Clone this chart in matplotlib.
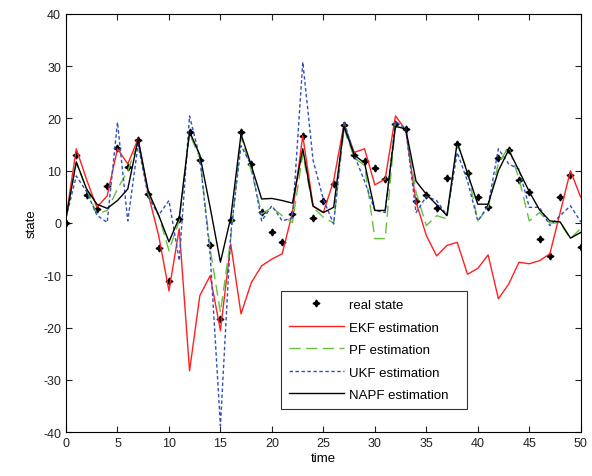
import matplotlib
matplotlib.use("Agg")
import matplotlib.pyplot as plt
import numpy as np

plt.rcParams['font.family'] = ['Liberation Sans', 'DejaVu Sans']
plt.rcParams['axes.unicode_minus'] = False

time = list(range(51))

real_state = [0, 13.0, 5.4, 2.7, 7.0, 14.3, 10.8, 15.9, 5.6, -4.7,
              -11.1, 0.8, 17.4, 12.0, -4.3, -18.4, 0.6, 17.5, 11.3, 2.2,
              -1.8, -3.7, 1.7, 16.6, 1.0, 4.3, 7.5, 18.8, 13.1, 11.9,
              10.5, 8.4, 18.9, 17.9, 4.3, 5.4, 2.9, 8.7, 15.1, 9.6,
              5.0, 3.0, 12.4, 14.0, 8.2, 5.9, -3.0, -6.3, 5.0, 9.1, -4.6]

ekf = [1, 14.2, 8.3, 3.0, 5.2, 14.2, 11.3, 16.1, 5.4, -2.4,
       -13.0, -1.1, -28.3, -13.9, -10.1, -20.6, -4.0, -17.4, -11.4, -8.2,
       -6.9, -5.9, 2.0, 16.7, 3.3, 2.0, 8.1, 18.9, 13.5, 14.2,
       7.3, 8.4, 20.5, 17.8, 4.0, -2.4, -6.3, -4.3, -3.7, -9.8,
       -8.7, -6.1, -14.5, -11.7, -7.5, -7.8, -7.2, -5.9, 2.0, 10.0, 4.9]

pf = [1, 11.5, 6.5, 1.7, 2.4, 6.5, 10.0, 15.5, 5.5, 1.5,
      -5.3, 0.5, 17.0, 12.5, -5.0, -17.1, -3.0, 16.5, 10.0, 1.7,
      3.0, 1.4, 0.1, 13.2, 3.0, 1.1, 0.0, 18.0, 12.5, 11.0,
      -3.0, -3.0, 19.0, 18.0, 5.9, -0.5, 1.4, 0.8, 15.0, 10.0,
      0.4, 3.0, 11.5, 14.5, 8.5, 0.4, 2.0, 0.0, 0.0, -3.0, -1.0]

ukf = [1, 9.0, 6.0, 1.5, 0.1, 19.3, 0.4, 15.0, 5.0, 1.5,
       4.3, -7.2, 20.5, 12.5, -6.0, -38.8, -2.0, 14.8, 11.0, 0.4,
       3.3, 0.4, 1.0, 30.8, 12.0, 4.5, -0.2, 19.5, 13.0, 8.0,
       2.4, 2.0, 19.5, 18.0, 2.0, 5.1, 4.3, 1.5, 13.5, 8.0,
       0.4, 3.3, 14.2, 11.3, 10.3, 3.0, 3.0, -0.5, 1.4, 3.3, 0.2]

napf = [1, 11.7, 6.5, 3.6, 2.8, 4.3, 6.5, 16.0, 6.0, 1.5,
        -3.6, 1.0, 17.5, 13.0, 3.0, -7.5, 1.0, 17.0, 11.0, 4.6,
        4.7, 4.3, 3.8, 14.2, 3.2, 2.0, 3.0, 18.5, 13.0, 11.5,
        2.4, 2.4, 18.5, 18.0, 8.0, 5.5, 3.5, 1.4, 15.5, 9.5,
        3.6, 3.6, 10.0, 14.0, 10.0, 6.0, 2.5, 0.4, 0.2, -2.9, -1.8]

xticks = [0, 5, 10, 15, 20, 25, 30, 35, 40, 45, 50]
yticks = [-40, -30, -20, -10, 0, 10, 20, 30, 40]

fig = plt.figure(figsize=(5.92, 4.77), dpi=100)
ax = fig.add_axes([0.1115, 0.0922, 0.8695, 0.8764])

ax.plot(time, real_state, linestyle='none', marker=(4, 1, 0), color='black',
        markersize=5, label='real state')
ax.plot(time, ekf, color='#ff2020', linewidth=1.0, label='EKF estimation')
ax.plot(time, pf, color='#66c040', linewidth=1.0, dashes=(8, 4), label='PF estimation')
ax.plot(time, ukf, color='#3050c0', linewidth=1.0, dashes=(2.5, 1.8), label='UKF estimation')
ax.plot(time, napf, color='black', linewidth=1.0, label='NAPF estimation')

ax.set_xlim(0, 50)
ax.set_ylim(-40, 40)
ax.set_xticks(xticks)
ax.set_yticks(yticks)
ax.tick_params(direction='in', top=True, right=True, labelsize=9, length=4,
               colors='#222222')
ax.set_xlabel('time', fontsize=9.5, labelpad=2)
ax.set_ylabel('state', fontsize=9.5, labelpad=4)
for s in ax.spines.values():
    s.set_linewidth(0.8)

leg = ax.legend(loc='lower left', bbox_to_anchor=(0.417, 0.055, 0.362, 0.285),
                mode='expand', fontsize=9.5, frameon=True, fancybox=False,
                edgecolor='black', handlelength=4.2, borderaxespad=0,
                labelspacing=0.78, handletextpad=0.4, borderpad=0.6)
leg.get_frame().set_linewidth(0.8)

fig.savefig('out.png', dpi=100)
